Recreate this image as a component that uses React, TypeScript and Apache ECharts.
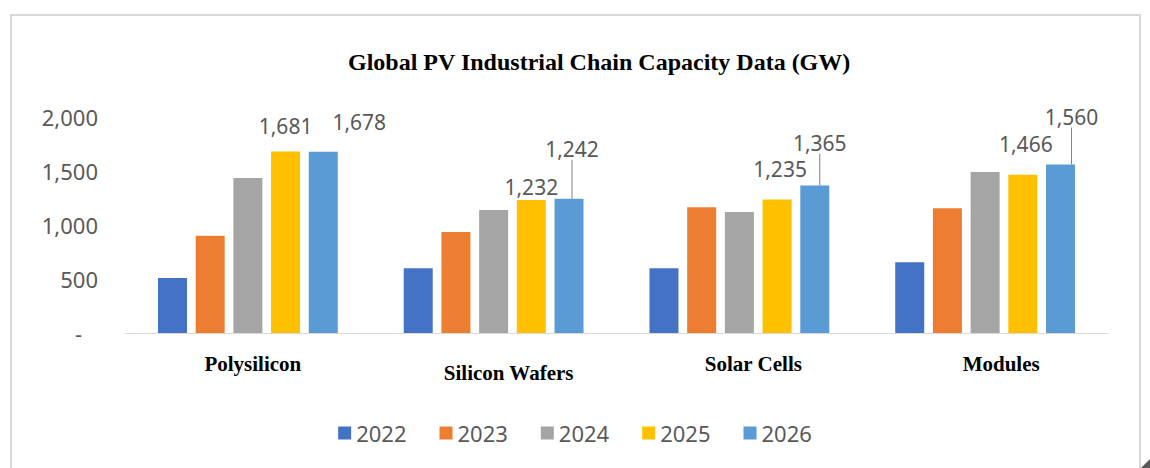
import React, { useEffect, useRef } from "react";
import * as echarts from "echarts";

const categories = ["Polysilicon", "Silicon Wafers", "Solar Cells", "Modules"];
const years = ["2022", "2023", "2024", "2025", "2026"];
const v2022 = [510, 600, 600, 655];
const v2023 = [900, 935, 1165, 1155];
const v2024 = [1435, 1140, 1120, 1490];
const v2025 = [1681, 1232, 1235, 1466];
const v2026 = [1678, 1242, 1365, 1560];
const yTicks = [0, 500, 1000, 1500, 2000];

const colors = ["#4472C4", "#ED7D31", "#A5A5A5", "#FFC000", "#5B9BD5"];

// label offsets (style only)
const offs2025 = [[0, -10], [0, 3], [3, -15], [3, -15]];
const offs2026 = [[36, -14], [3, -34], [5, -27], [11, -32]];
const catRich = ["a", "b", "c", "d"];

const fmt = (v: number) => v.toLocaleString("en-US");

export default function App() {
  const ref = useRef<HTMLDivElement>(null);
  useEffect(() => {
    if (!ref.current) return;
    const chart = echarts.init(ref.current, null, { renderer: "svg" });
    const allValues = [v2022, v2023, v2024, v2025, v2026];
    const series: any[] = allValues.map((vals, i) => {
      const s: any = {
        name: years[i],
        type: "bar",
        data: vals,
        barWidth: 29,
        barGap: "30%",
        itemStyle: { color: colors[i] },
      };
      if (i === 3 || i === 4) {
        const offs = i === 3 ? offs2025 : offs2026;
        s.label = {
          show: true,
          position: "top",
          distance: 5,
          color: "#595959",
          fontSize: 21,
          fontFamily: "Noto Sans",
          formatter: (p: any) => fmt(p.value),
        };
        s.labelLayout = (p: any) => ({ dx: offs[p.dataIndex][0], dy: offs[p.dataIndex][1] });
        if (i === 4) {
          s.labelLine = { show: true, lineStyle: { color: "#7f7f7f", width: 1 } };
          s.data = vals.map((v, k) => (k === 0 ? { value: v, labelLine: { show: false } } : v));
        }
      }
      return s;
    });
    chart.setOption({
      animation: false,
      backgroundColor: "#ffffff",
      title: {
        text: "Global PV Industrial Chain Capacity Data (GW)",
        left: 343,
        top: 45,
        textStyle: {
          fontFamily: "Liberation Serif",
          fontWeight: "bold",
          fontSize: 24,
          color: "#000000",
        },
      },
      legend: {
        data: years,
        left: "center",
        top: 417,
        icon: "rect",
        itemWidth: 13,
        itemHeight: 13,
        itemGap: 33,
        textStyle: { fontSize: 22, color: "#595959", fontFamily: "Noto Sans" },
      },
      grid: { left: 125, right: 42, top: 117, bottom: 135, containLabel: false },
      xAxis: {
        type: "category",
        data: categories,
        axisLine: { lineStyle: { color: "#d9d9d9", width: 1 } },
        axisTick: { show: false },
        axisLabel: {
          margin: 20,
          formatter: (v: string, idx: number) => `{${catRich[idx]}|${v}}`,
          rich: {
            a: { fontFamily: "Liberation Serif", fontWeight: "bold", fontSize: 21, color: "#000", padding: [0, 0, 0, 10] },
            b: { fontFamily: "Liberation Serif", fontWeight: "bold", fontSize: 21, color: "#000", padding: [9, 0, 0, 30] },
            c: { fontFamily: "Liberation Serif", fontWeight: "bold", fontSize: 21, color: "#000", padding: [0, 0, 0, 28] },
            d: { fontFamily: "Liberation Serif", fontWeight: "bold", fontSize: 21, color: "#000", padding: [0, 0, 0, 32] },
          },
        },
      },
      yAxis: {
        type: "value",
        min: yTicks[0],
        max: yTicks[yTicks.length - 1],
        interval: 500,
        splitLine: { show: false },
        axisLine: { show: false },
        axisTick: { show: false },
        axisLabel: {
          margin: 27,
          color: "#595959",
          fontSize: 22,
          fontFamily: "Noto Sans",
          formatter: (v: number) => (v === 0 ? "{z|-}" : fmt(v)),
          rich: { z: { fontSize: 22, color: "#595959", fontFamily: "Noto Sans", padding: [0, 16, 0, 0] } },
        },
      },
      graphic: [
        {
          type: "rect",
          shape: { x: 11, y: 15, width: 1129, height: 470 },
          style: { fill: "none", stroke: "#d9d9d9", lineWidth: 2 },
          silent: true,
        },
        {
          type: "polygon",
          shape: { points: [[1141, 468], [1150, 459], [1150, 468]] },
          style: { fill: "#595959" },
          silent: true,
        },
      ],
      series,
    });
    return () => chart.dispose();
  }, []);
  return (
    <div
      ref={ref}
      style={{ position: "fixed", left: 0, top: 0, width: 1150, height: 468, background: "#fff" }}
    />
  );
}
